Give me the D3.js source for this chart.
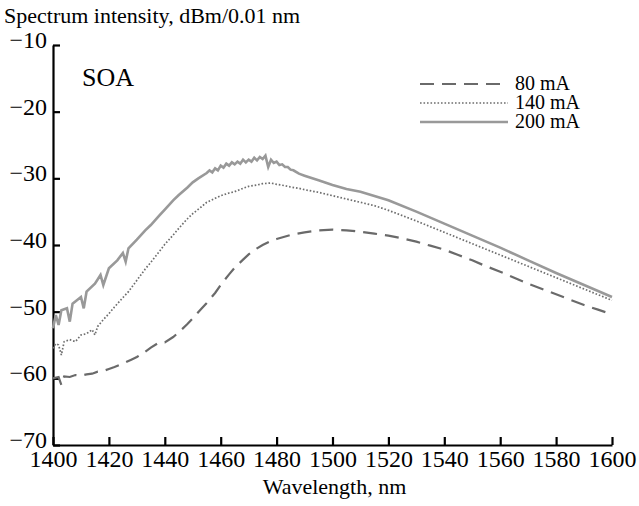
<!DOCTYPE html>
<html>
<head>
<meta charset="utf-8">
<script src="https://cdn.jsdelivr.net/npm/d3@7"></script>
<style>
  body { margin: 0; background: #fff; }
  text { font-family: "Liberation Serif", "DejaVu Serif", serif; }
</style>
</head>
<body>
<div id="chart"></div>
<script>
/* chart data */
var xTicks = [1400, 1420, 1440, 1460, 1480, 1500, 1520, 1540, 1560, 1580, 1600];
var yTicks = [-10, -20, -30, -40, -50, -60, -70];
var seriesNames = ["80 mA", "140 mA", "200 mA"];

var wl80 = [1400, 1402, 1403, 1404, 1406, 1408, 1410, 1412, 1414, 1416, 1418, 1420, 1422, 1425, 1428, 1430, 1433, 1435, 1438, 1440, 1443, 1445, 1448, 1450, 1453, 1455, 1458, 1460, 1463, 1465, 1468, 1470, 1473, 1475, 1478, 1480, 1485, 1490, 1495, 1500, 1505, 1510, 1515, 1520, 1525, 1530, 1535, 1540, 1545, 1550, 1555, 1560, 1565, 1570, 1575, 1580, 1585, 1590, 1595, 1600];
var p80 = [-60, -59.8, -61, -59.7, -59.8, -59.5, -59.6, -59.4, -59.3, -59, -58.9, -58.6, -58.3, -57.8, -57.2, -56.8, -56, -55.4, -54.6, -54.6, -53.8, -53.1, -51.9, -51, -49.6, -48.7, -47.2, -46, -44.4, -43.4, -42.2, -41.4, -40.5, -40, -39.4, -39.1, -38.5, -38.1, -37.8, -37.7, -37.8, -38, -38.3, -38.6, -39, -39.5, -40.1, -40.7, -41.5, -42.3, -43.2, -44, -44.9, -45.8, -46.6, -47.4, -48.2, -49, -49.7, -50.4];

var wl140 = [1400, 1401, 1402, 1403, 1404, 1406, 1408, 1410, 1412, 1414, 1415, 1416, 1418, 1420, 1422, 1425, 1427, 1430, 1433, 1435, 1438, 1440, 1443, 1445, 1448, 1450, 1453, 1455, 1458, 1460, 1463, 1465, 1468, 1470, 1473, 1475, 1478, 1480, 1483, 1485, 1488, 1490, 1495, 1500, 1505, 1510, 1515, 1520, 1530, 1540, 1550, 1560, 1570, 1580, 1590, 1600];
var p140 = [-55.5, -54.8, -55, -56.5, -54.5, -54.2, -54.5, -53.5, -53.3, -52.7, -53.5, -52.2, -51.2, -50.3, -49.3, -47.9, -47, -45.3, -43.6, -42.6, -41, -39.9, -38.5, -37.5, -36.1, -35.3, -34.3, -33.6, -33, -32.6, -32.2, -32, -31.5, -31.2, -31, -30.8, -30.7, -30.9, -31.1, -31.3, -31.5, -31.7, -32.1, -32.6, -33.1, -33.6, -34.1, -34.8, -36.4, -38.1, -39.8, -41.5, -43.2, -44.9, -46.6, -48.3];

var wl200 = [1400, 1401, 1402, 1403, 1405, 1406, 1407, 1410, 1411, 1412, 1415, 1417, 1418, 1420, 1423, 1425, 1426, 1427, 1430, 1433, 1435, 1438, 1440, 1443, 1445, 1448, 1450, 1452, 1455, 1456, 1457, 1458, 1459, 1460, 1461, 1462, 1463, 1464, 1465, 1466, 1467, 1468, 1469, 1470, 1471, 1472, 1473, 1474, 1475, 1476, 1477, 1478, 1479, 1480, 1481, 1482, 1483, 1484, 1485, 1486, 1488, 1490, 1495, 1500, 1505, 1510, 1520, 1530, 1540, 1550, 1560, 1570, 1580, 1590, 1600];
var p200 = [-52.5, -50.5, -52, -49.8, -49.5, -51.5, -48.8, -47.8, -49.5, -47, -45.8, -44.5, -46, -43.5, -42.3, -41.2, -42.5, -40.5, -39.2, -37.8, -37, -35.6, -34.7, -33.3, -32.5, -31.4, -30.6, -30, -29.2, -28.8, -29.1, -28.5, -28.8, -28.1, -28.4, -27.8, -28.1, -27.6, -27.9, -27.5, -27.8, -27.2, -27.6, -27.2, -27.5, -26.9, -27.3, -26.8, -27.1, -26.6, -28.3, -27.2, -27.7, -27.5, -28, -27.9, -28.3, -28.3, -28.7, -28.8, -29.3, -29.6, -30.3, -31, -31.6, -32, -33.3, -35, -36.8, -38.6, -40.4, -42.3, -44.2, -46, -47.8];

/* size and style parameters */
var width = 639;
var height = 506;
var mLeft = 53, mRight = 612, mTop = 45, mBottom = 445;

var svg = d3.select("#chart")
	.append("svg")
		.attr("width", width)
		.attr("height", height);

var x = d3.scaleLinear().domain([1400, 1600]).range([mLeft, mRight]);
var y = d3.scaleLinear().domain([-70, -10]).range([mBottom, mTop]);

/* axes, ticks pointing inward */
var xAxis = svg.append("g")
	.attr("transform", "translate(0," + mBottom + ")")
	.call(d3.axisBottom(x).tickValues(xTicks).tickSize(-8).tickSizeOuter(0).tickPadding(3).tickFormat(d3.format("d")));

var yAxis = svg.append("g")
	.attr("transform", "translate(" + mLeft + ",0)")
	.call(d3.axisLeft(y).tickValues(yTicks).tickSize(-7).tickSizeOuter(0).tickPadding(6)
		.tickFormat(function(d) { return "\u2212" + Math.abs(d); }));

[xAxis, yAxis].forEach(function(g) {
	g.select(".domain").attr("stroke-width", 2.2);
	g.selectAll(".tick line").attr("stroke-width", 2.2);
	g.selectAll("text").style("font-size", "24px").attr("fill", "#000");
});
xAxis.selectAll("text").attr("dy", "0.8em");
yAxis.selectAll("text").attr("dy", "0.1em");

/* curves */
var line = d3.line()
	.x(function(d) { return x(d[0]); })
	.y(function(d) { return y(d[1]); });

var curves = [
	{ wl: wl80, p: p80, color: "#6a6a6a", width: 2.2, dash: "14,8" },
	{ wl: wl140, p: p140, color: "#6e6e6e", width: 1.7, dash: "1.6,1.9" },
	{ wl: wl200, p: p200, color: "#999999", width: 2.6, dash: null }
];

curves.forEach(function(c) {
	svg.append("path")
		.datum(d3.zip(c.wl, c.p))
		.attr("fill", "none")
		.attr("stroke", c.color)
		.attr("stroke-width", c.width)
		.attr("stroke-dasharray", c.dash)
		.attr("d", line);
});

/* legend */
var legendY = [84, 103, 122];
curves.forEach(function(c, i) {
	svg.append("line")
		.attr("x1", 420).attr("x2", 508)
		.attr("y1", legendY[i]).attr("y2", legendY[i])
		.attr("stroke", c.color)
		.attr("stroke-width", c.width)
		.attr("stroke-dasharray", c.dash);
	svg.append("text")
		.attr("x", 515)
		.attr("y", legendY[i] + 6)
		.style("font-size", "20px")
		.text(seriesNames[i]);
});

/* labels */
svg.append("text")
	.attr("x", 4).attr("y", 23)
	.style("font-size", "22px")
	.text("Spectrum intensity, dBm/0.01 nm");

svg.append("text")
	.attr("x", 82).attr("y", 86)
	.style("font-size", "26px")
	.text("SOA");

svg.append("text")
	.attr("x", (mLeft + mRight) / 2 + 2).attr("y", 494)
	.attr("text-anchor", "middle")
	.style("font-size", "22px")
	.text("Wavelength, nm");
</script>
</body>
</html>
